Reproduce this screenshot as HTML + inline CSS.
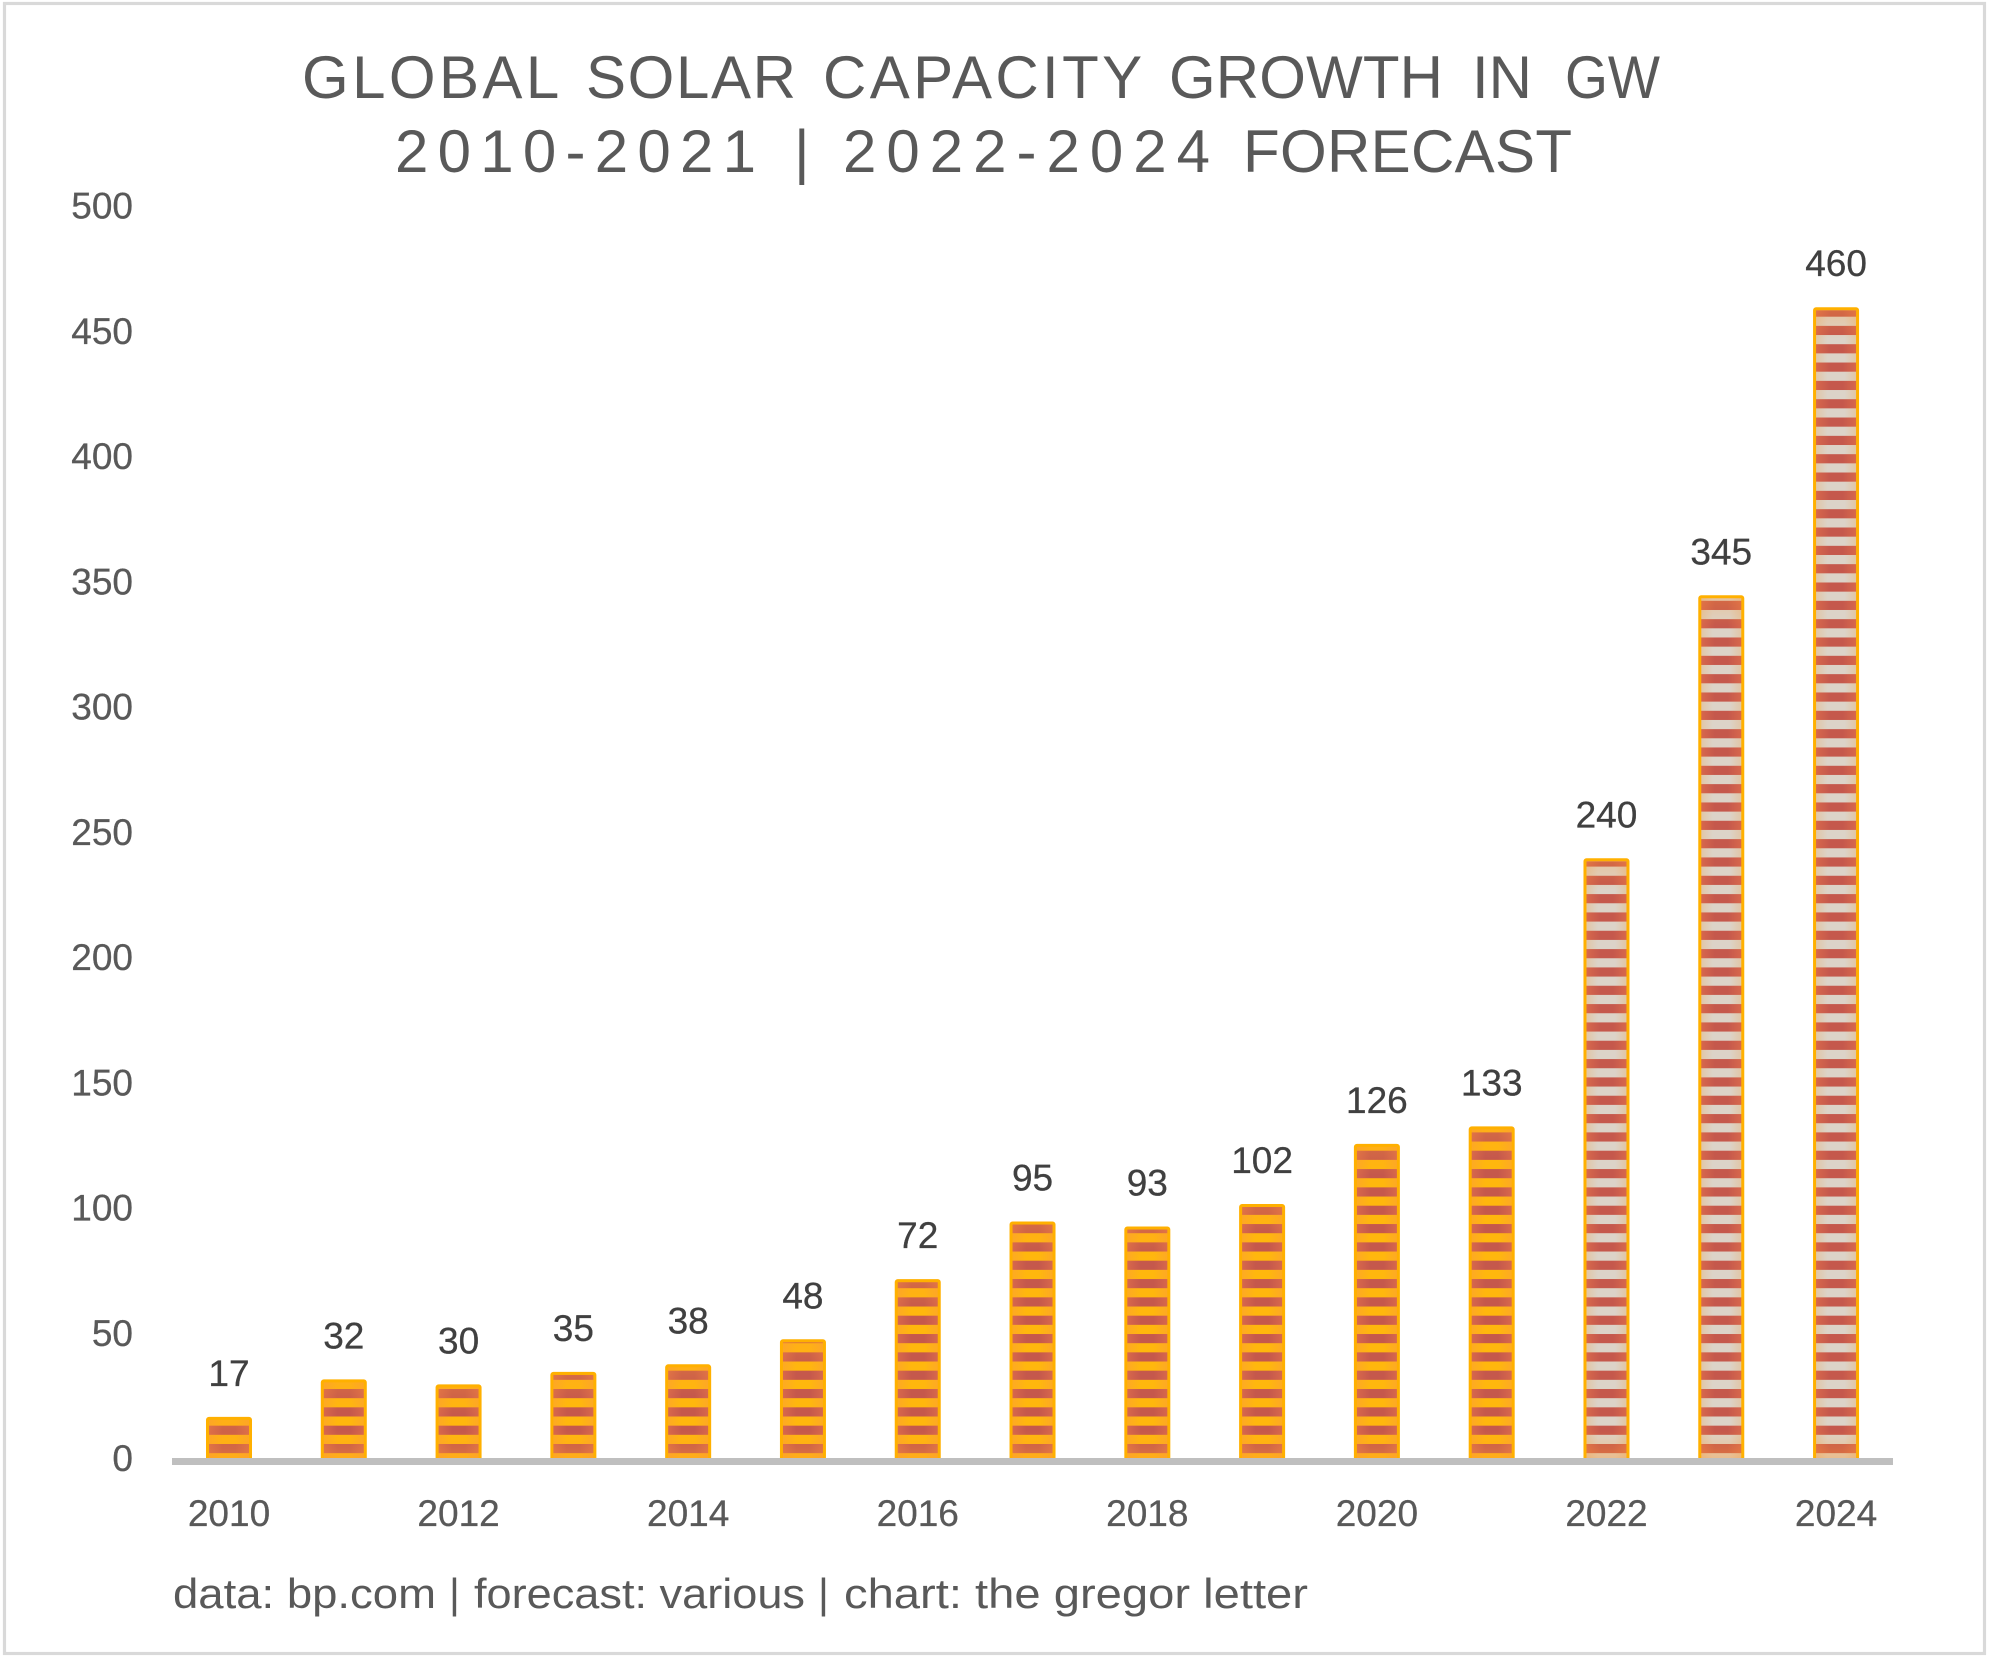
<!DOCTYPE html>
<html lang="en">
<head>
<meta charset="utf-8">
<title>Global Solar Capacity Growth in GW</title>
<style>
html,body{margin:0;padding:0;background:#fff;width:1993px;height:1663px;overflow:hidden}
svg{display:block}
text{font-family:"Liberation Sans",Arial,sans-serif}
</style>
</head>
<body>
<svg id="chart" xmlns="http://www.w3.org/2000/svg" width="1993" height="1663" viewBox="0 0 1993 1663">
  <defs>
    <linearGradient id="lightActual" x1="0" x2="1" y1="0" y2="0">
      <stop offset="0" stop-color="#fda826"/><stop offset=".35" stop-color="#ffb70d"/><stop offset=".65" stop-color="#ffb70d"/><stop offset="1" stop-color="#fda826"/>
    </linearGradient>
    <linearGradient id="lightForecast" x1="0" x2="1" y1="0" y2="0">
      <stop offset="0" stop-color="#e2c4a2"/><stop offset=".3" stop-color="#dcd3c8"/><stop offset=".7" stop-color="#dcd3c8"/><stop offset="1" stop-color="#e2c4a2"/>
    </linearGradient>
    <linearGradient id="redBand" x1="0" x2="1" y1="0" y2="0">
      <stop offset="0" stop-color="#d9694c"/><stop offset=".35" stop-color="#c5584c"/><stop offset=".65" stop-color="#c5584c"/><stop offset="1" stop-color="#d9694c"/>
    </linearGradient>
    <linearGradient id="topTint" x1="0" x2="0" y1="0" y2="1">
      <stop offset="0" stop-color="#ff9a30" stop-opacity=".28"/><stop offset="1" stop-color="#ff9a30" stop-opacity="0"/>
    </linearGradient>
    <linearGradient id="bottomTint" x1="0" x2="0" y1="0" y2="1">
      <stop offset="0" stop-color="#ff9a30" stop-opacity="0"/><stop offset="1" stop-color="#ff9a30" stop-opacity=".42"/>
    </linearGradient>
  </defs>
  <rect x="4.5" y="3.5" width="1980" height="1650" fill="#fff" stroke="#d9d9d9" stroke-width="3.2"/>
  <g>
    <text y="98" font-size="60" fill="#595959"><tspan x="302" textLength="255" lengthAdjust="spacing">GLOBAL</tspan> <tspan x="586" textLength="210" lengthAdjust="spacing">SOLAR</tspan> <tspan x="823" textLength="318" lengthAdjust="spacing">CAPACITY</tspan> <tspan x="1169" textLength="274" lengthAdjust="spacing">GROWTH</tspan> <tspan x="1472" textLength="60" lengthAdjust="spacing">IN</tspan> <tspan x="1565" textLength="95" lengthAdjust="spacingAndGlyphs">GW</tspan></text>
    <text y="172" font-size="60" fill="#595959"><tspan x="395" textLength="361" lengthAdjust="spacing">2010-2021</tspan> <tspan x="794">|</tspan> <tspan x="843" textLength="367" lengthAdjust="spacing">2022-2024</tspan> <tspan x="1243" textLength="329" lengthAdjust="spacing">FORECAST</tspan></text>
  </g>
  <g id="yAxis"></g>
  <g id="bars"></g>
  <rect x="172" y="1458" width="1721" height="7" fill="#bfbfbf"/>
  <g id="xAxis"></g>
  <g id="labels"></g>
  <text y="1608" font-size="42" fill="#595959"><tspan x="173" textLength="263" lengthAdjust="spacingAndGlyphs">data: bp.com</tspan> <tspan x="449">|</tspan> <tspan x="474" textLength="331" lengthAdjust="spacingAndGlyphs">forecast: various</tspan> <tspan x="818">|</tspan> <tspan x="844" textLength="464" lengthAdjust="spacingAndGlyphs">chart: the gregor letter</tspan></text>
</svg>
<script>
var years = [2010,2011,2012,2013,2014,2015,2016,2017,2018,2019,2020,2021,2022,2023,2024];
var capacity = [17,32,30,35,38,48,72,95,93,102,126,133,240,345,460];
var firstForecastYear = 2022;
var yTicks = [0,50,100,150,200,250,300,350,400,450,500];
var xTickYears = [2010,2012,2014,2016,2018,2020,2022,2024];

var NS = 'http://www.w3.org/2000/svg';
function yScale(v){ return 1461 - 2.505 * v; }
function xScale(year){ return 229 + 114.79 * (year - years[0]); }
function make(tag, parent, attrs){
  var el = document.createElementNS(NS, tag);
  for (var k in attrs) el.setAttribute(k, attrs[k]);
  parent.appendChild(el);
  return el;
}

var yAxis = document.getElementById('yAxis');
yTicks.forEach(function(t){
  var el = make('text', yAxis, {x:133, y:yScale(t)+10, 'font-size':37, fill:'#595959', stroke:'#595959', 'stroke-width':.3, 'text-anchor':'end'});
  
  
  el.textContent = t;
});

var xAxis = document.getElementById('xAxis');
xTickYears.forEach(function(y){
  var el = make('text', xAxis, {x:xScale(y), y:1526, 'font-size':37, fill:'#595959', stroke:'#595959', 'stroke-width':.3, 'text-anchor':'middle'});
  
  
  el.textContent = y;
});

var barsG = document.getElementById('bars');
var labelsG = document.getElementById('labels');
var BAND_PERIOD = 18.33, BAND_H = 9.16, BAND_ANCHOR = 1444, BAR_W = 43, BORDER = 3, TINT_H = 30;
years.forEach(function(year, i){
  var v = capacity[i];
  var cx = xScale(year);
  var top = yScale(v);
  var bottom = yScale(0);
  var forecast = year >= firstForecastYear;
  var g = make('g', barsG, {});
  
  
  make('rect', g, {x:cx-BAR_W/2, y:top, width:BAR_W, height:bottom-top, fill:forecast?'url(#lightForecast)':'url(#lightActual)'});
  var innerTop = top + BORDER/2;
  for (var k = 0; ; k++){
    var t = BAND_ANCHOR - BAND_PERIOD * k;
    var b = t + BAND_H;
    if (b <= innerTop) break;
    var yy = Math.max(t, innerTop);
    make('rect', g, {x:cx-BAR_W/2, y:yy, width:BAR_W, height:b-yy, fill:'url(#redBand)'});
  }
  var tintH = Math.min(TINT_H, bottom - top);
  make('rect', g, {x:cx-BAR_W/2, y:top, width:BAR_W, height:tintH, fill:'url(#topTint)'});
  make('rect', g, {x:cx-BAR_W/2, y:bottom-tintH, width:BAR_W, height:tintH, fill:'url(#bottomTint)'});
  make('rect', g, {x:cx-BAR_W/2, y:top, width:BAR_W, height:bottom-top, rx:1.5, fill:'none', stroke:'#ffb000', 'stroke-width':BORDER});
  var lab = make('text', labelsG, {x:cx, y:top-32.5, 'font-size':37, fill:'#404040', stroke:'#404040', 'stroke-width':.3, 'text-anchor':'middle'});
  
  
  lab.textContent = v;
});
</script>
</body>
</html>
